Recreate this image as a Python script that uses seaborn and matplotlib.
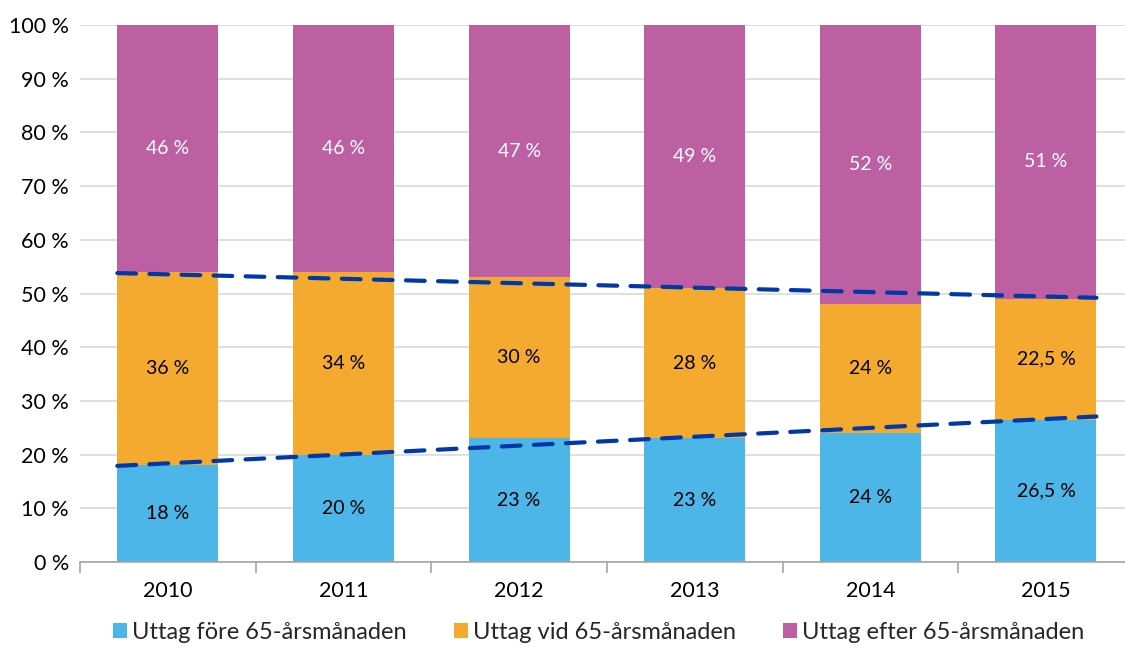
import numpy as np
import pandas as pd
import matplotlib
matplotlib.use("Agg")
import matplotlib.pyplot as plt
import seaborn as sns
from matplotlib.patches import Patch

# Data
years = ["2010", "2011", "2012", "2013", "2014", "2015"]
before_65 = [18, 20, 23, 23, 24, 26.5]
at_65 = [36, 34, 30, 28, 24, 22.5]
after_65 = [46, 46, 47, 49, 52, 51]

# dashed trend lines (value at first bar's left edge, value at last bar's right edge)
trend_before = [17.9, 27.1]
trend_at = [53.8, 49.2]

series_names = ["Uttag före 65-årsmånaden", "Uttag vid 65-årsmånaden", "Uttag efter 65-årsmånaden"]
colors = ["#4DB6E8", "#F3AA2F", "#BD5FA3"]

def fmt(v):
    s = f"{v:g}".replace(".", ",")
    return f"{s} %"

df = pd.DataFrame({"year": years, "before": before_65, "at": at_65, "after": after_65})
df["cum_at"] = df["before"] + df["at"]
df["cum_after"] = df["cum_at"] + df["after"]

sns.set_theme(style="whitegrid")
plt.rcParams["font.family"] = ["Lato", "DejaVu Sans"]

fig = plt.figure(figsize=(11.25, 6.51), dpi=100)
ax = fig.add_axes([80 / 1125, 89 / 651, 1045 / 1125, 537 / 651])

bw = 0.575
sns.barplot(data=df, x="year", y="cum_after", color=colors[2], width=bw, saturation=1, linewidth=0, ax=ax)
sns.barplot(data=df, x="year", y="cum_at", color=colors[1], width=bw, saturation=1, linewidth=0, ax=ax)
sns.barplot(data=df, x="year", y="before", color=colors[0], width=bw, saturation=1, linewidth=0, ax=ax)

# segment labels
for i in range(len(years)):
    ax.text(i, df["before"][i] / 2, fmt(before_65[i]), ha="center", va="center",
            fontsize=14, color="black")
    ax.text(i, df["before"][i] + at_65[i] / 2, fmt(at_65[i]), ha="center", va="center",
            fontsize=14, color="black")
    ax.text(i, df["cum_at"][i] + after_65[i] / 2, fmt(after_65[i]), ha="center", va="center",
            fontsize=14, color="white")

# trend lines
tx = [0 - bw / 2, len(years) - 1 + bw / 2]
for tv in (trend_before, trend_at):
    ax.plot(tx, tv, color="#0038A8", lw=3, ls=(0, (4.5, 3.2)), dash_capstyle="round", zorder=5)

ax.set_ylim(0, 100)
ax.set_xlim(-0.5, 5.45)
ax.set_yticks(np.arange(0, 101, 10))
ax.set_yticklabels([f"{v} %" for v in range(0, 101, 10)])
ax.set_xlabel("")
ax.set_ylabel("")
ax.grid(axis="y", color="#D9D9D9", lw=1.2)
ax.grid(axis="x", visible=False)
ax.set_axisbelow(True)
for s in ["top", "right", "left"]:
    ax.spines[s].set_visible(False)
ax.spines["bottom"].set_color("#A6A6A6")
ax.spines["bottom"].set_linewidth(1.2)

# boundary ticks on x axis
ax.set_xticks(np.arange(-0.5, 5.5, 1), minor=True)
ax.tick_params(axis="x", which="minor", length=8, width=1.2, color="#A6A6A6", bottom=True)
ax.tick_params(axis="x", which="major", length=0, labelsize=15.5, pad=14, colors="black")
ax.tick_params(axis="y", length=0, labelsize=15.5, pad=8, colors="black")

handles = [Patch(facecolor=c, edgecolor="none") for c in colors]
fig.legend(handles, series_names, loc="center", bbox_to_anchor=(0.532, 0.028), ncol=3,
           frameon=False, fontsize=17, handlelength=0.6, handleheight=0.6,
           handletextpad=0.2, columnspacing=2.0)

fig.savefig("out.png", dpi=100)
